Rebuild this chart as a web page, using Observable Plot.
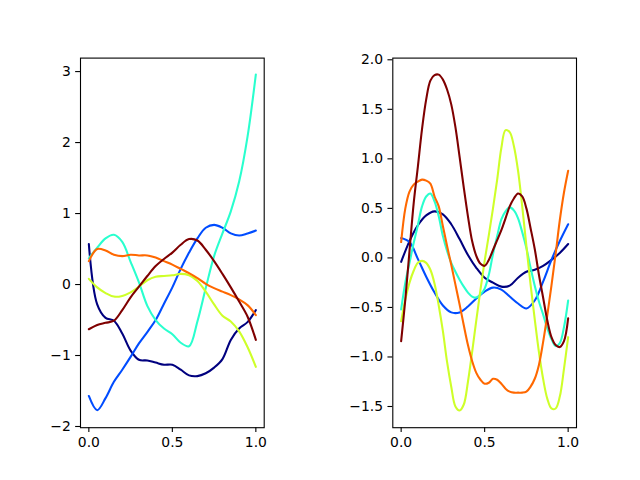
<!DOCTYPE html>
<html>
<head>
<meta charset="utf-8">
<script src="https://cdn.jsdelivr.net/npm/d3@7"></script>
<script src="https://cdn.jsdelivr.net/npm/@observablehq/plot@0.6"></script>
<style>
  body { margin: 0; background: #fff; }
  #fig { position: relative; width: 640px; height: 480px; background: #fff; }
  #fig svg { position: absolute; top: 0; }
</style>
</head>
<body>
<div id="fig"></div>
<script>
// Line colours: six evenly spaced samples of the jet colormap
const seriesColors = ["#00007f", "#004cff", "#29ffce", "#ceff29", "#ff6800", "#7f0000"];

// ---- Left panel: six random-walk-like series sampled every 0.05 ----
const leftT = [0, 0.05, 0.1, 0.15, 0.2, 0.25, 0.3, 0.35, 0.4, 0.45, 0.5,
               0.55, 0.6, 0.65, 0.7, 0.75, 0.8, 0.85, 0.9, 0.95, 1.0];
const leftNavy   = [0.57, -0.28, -0.47, -0.51, -0.69, -0.93, -1.06, -1.07, -1.10, -1.13, -1.13,
                    -1.20, -1.28, -1.29, -1.25, -1.17, -1.05, -0.78, -0.62, -0.53, -0.36];
const leftBlue   = [-1.57, -1.77, -1.60, -1.37, -1.20, -1.02, -0.83, -0.67, -0.50, -0.27, -0.04,
                    0.22, 0.45, 0.65, 0.80, 0.84, 0.80, 0.72, 0.69, 0.72, 0.76];
const leftCyan   = [0.37, 0.52, 0.65, 0.70, 0.60, 0.32, 0.03, -0.30, -0.50, -0.62, -0.70,
                    -0.82, -0.87, -0.52, -0.05, 0.40, 0.72, 1.03, 1.45, 2.08, 2.96];
const leftYellow = [0.08, -0.04, -0.12, -0.17, -0.16, -0.11, -0.03, 0.06, 0.11, 0.12, 0.13,
                    0.15, 0.13, 0.05, -0.10, -0.28, -0.44, -0.52, -0.66, -0.88, -1.16];
const leftOrange = [0.33, 0.50, 0.48, 0.42, 0.40, 0.42, 0.41, 0.41, 0.38, 0.33, 0.28,
                    0.22, 0.16, 0.09, 0.01, -0.05, -0.10, -0.15, -0.21, -0.29, -0.43];
const leftRed    = [-0.63, -0.57, -0.54, -0.51, -0.36, -0.18, -0.03, 0.12, 0.26, 0.36, 0.45,
                    0.56, 0.64, 0.62, 0.49, 0.33, 0.15, -0.04, -0.24, -0.45, -0.78];

// ---- Right panel: smoother oscillating series ----
const rightTCoarse = leftT;
const rightTFine = [0, 0.025, 0.05, 0.075, 0.1, 0.125, 0.15, 0.175, 0.2, 0.225, 0.25,
                    0.275, 0.3, 0.325, 0.35, 0.375, 0.4, 0.425, 0.45, 0.475, 0.5,
                    0.525, 0.55, 0.575, 0.6, 0.625, 0.65, 0.675, 0.7, 0.725, 0.75,
                    0.775, 0.8, 0.825, 0.85, 0.875, 0.9, 0.925, 0.95, 0.975, 1.0];
const rightNavy  = [-0.04, 0.17, 0.33, 0.43, 0.47, 0.44, 0.34, 0.19, 0.03, -0.10, -0.20,
                    -0.25, -0.29, -0.28, -0.20, -0.14, -0.12, -0.08, -0.02, 0.05, 0.14];
const rightBlue  = [0.20, 0.16, -0.01, -0.19, -0.35, -0.48, -0.55, -0.55, -0.49, -0.41, -0.34,
                    -0.30, -0.32, -0.39, -0.46, -0.51, -0.43, -0.24, -0.02, 0.17, 0.34];
const rightCyan  = [-0.52, -0.25, -0.05, 0.15, 0.33, 0.52, 0.62, 0.65, 0.57, 0.42, 0.22,
                    0.07, -0.05, -0.14, -0.22, -0.29, -0.35, -0.39, -0.40, -0.37, -0.31,
                    -0.17, 0.04, 0.22, 0.39, 0.47, 0.51, 0.48, 0.40, 0.26, 0.10,
                    -0.10, -0.28, -0.44, -0.57, -0.71, -0.82, -0.89, -0.86, -0.70, -0.43];
const rightYellow = [-0.64, -0.42, -0.25, -0.13, -0.05, -0.03, -0.05, -0.12, -0.26, -0.48, -0.74,
                     -1.05, -1.30, -1.50, -1.54, -1.48, -1.25, -0.95, -0.63, -0.32, -0.03,
                     0.23, 0.50, 0.79, 1.11, 1.29, 1.27, 1.13, 0.88, 0.52, 0.12,
                     -0.27, -0.62, -0.95, -1.22, -1.42, -1.52, -1.52, -1.40, -1.12, -0.80];
const rightOrange = [0.16, 0.50, 0.67, 0.74, 0.77, 0.79, 0.78, 0.75, 0.62, 0.52, 0.32,
                     0.12, -0.07, -0.27, -0.47, -0.68, -0.88, -1.04, -1.16, -1.23, -1.27,
                     -1.26, -1.22, -1.23, -1.27, -1.32, -1.35, -1.36, -1.36, -1.36, -1.35,
                     -1.30, -1.22, -1.08, -0.85, -0.58, -0.28, 0.04, 0.38, 0.66, 0.88];
const rightRed   = [-0.84, -0.42, 0.07, 0.55, 0.92, 1.30, 1.60, 1.79, 1.845, 1.85, 1.80,
                    1.70, 1.55, 1.32, 1.02, 0.71, 0.42, 0.17, 0.02, -0.06, -0.08,
                    -0.02, 0.08, 0.18, 0.28, 0.40, 0.52, 0.60, 0.65, 0.62, 0.50,
                    0.30, 0.09, -0.17, -0.40, -0.63, -0.80, -0.88, -0.90, -0.84, -0.61];

// Tick values
const leftYTicks = [-2, -1, 0, 1, 2, 3];
const rightYTicks = [-1.5, -1.0, -0.5, 0.0, 0.5, 1.0, 1.5, 2.0];
const xTicks = [0, 0.5, 1.0];

const minus = s => s.replace("-", "\u2212");
const fmtInt = d => minus(String(d));
const fmtOne = d => minus(d.toFixed(1));

function toRows(ts, vs, k) {
  return ts.map((t, i) => ({t, v: vs[i], k}));
}

function panel({series, yDomain, yTicks, yFormat, marginLeft, marginRight}) {
  const tickStyle = {tickSize: 4.86, tickPadding: 4.86, strokeWidth: 1.1, stroke: "black"};
  return Plot.plot({
    width: 320,
    height: 480,
    marginLeft,
    marginRight,
    marginTop: 57.6,
    marginBottom: 52.8,
    style: {fontFamily: "DejaVu Sans", fontSize: "13.9px", color: "black", background: "transparent", overflow: "visible"},
    x: {domain: [-0.05, 1.05]},
    y: {domain: yDomain},
    marks: [
      ...series.map(([ts, vs], i) =>
        Plot.line(toRows(ts, vs, i), {x: "t", y: "v", stroke: seriesColors[i], strokeWidth: 2.08, curve: "catmull-rom"})
      ),
      Plot.frame({stroke: "black", strokeWidth: 1.1}),
      Plot.axisX({ticks: xTicks, tickFormat: fmtOne, label: null, ...tickStyle}),
      Plot.axisY({ticks: yTicks, tickFormat: yFormat, label: null, ...tickStyle})
    ]
  });
}

const fig = document.getElementById("fig");

const left = panel({
  series: [[leftT, leftNavy], [leftT, leftBlue], [leftT, leftCyan],
           [leftT, leftYellow], [leftT, leftOrange], [leftT, leftRed]],
  yDomain: [-2.017, 3.19],
  yTicks: leftYTicks,
  yFormat: fmtInt,
  marginLeft: 80,
  marginRight: 56.3
});
left.style.left = "0px";
fig.appendChild(left);

const right = panel({
  series: [[rightTCoarse, rightNavy], [rightTCoarse, rightBlue], [rightTFine, rightCyan],
           [rightTFine, rightYellow], [rightTFine, rightOrange], [rightTFine, rightRed]],
  yDomain: [-1.714, 2.017],
  yTicks: rightYTicks,
  yFormat: fmtOne,
  marginLeft: 72.3,
  marginRight: 64
});
right.style.left = "320px";
fig.appendChild(right);
</script>
</body>
</html>
